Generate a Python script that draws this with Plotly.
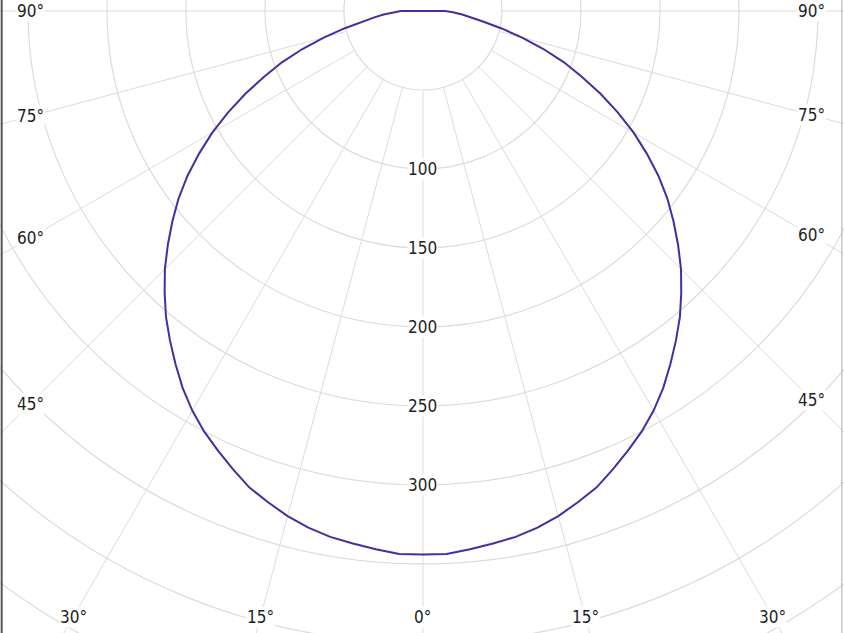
import numpy as np
import plotly.graph_objects as go

# luminous intensity distribution (cd/klm), C0-C180 plane, gamma angles in degrees
angles = [-90, -87.5, -85, -82.5, -80, -77.5, -75, -72.5, -70, -67.5, -65, -62.5, -60, -57.5,
          -55, -52.5, -50, -47.5, -45, -42.5, -40, -37.5, -35, -32.5, -30, -27.5, -25, -22.5,
          -20, -17.5, -15, -12.5, -10, -7.5, -5, -2.5,
          0, 2.5, 5, 7.5, 10, 12.5, 15, 17.5, 20, 22.5, 25, 27.5, 30, 32.5, 35, 37.5, 40,
          42.5, 45, 47.5, 50, 52.5, 55, 57.5, 60, 62.5, 65, 67.5, 70, 72.5, 75, 77.5, 80,
          82.5, 85, 87.5, 90]
intensity = [14, 19, 25, 31, 39, 51, 65, 80, 95, 109, 124, 139, 154, 168,
             182, 195, 207, 219, 231, 242, 253, 263, 273, 283, 292, 300, 307, 314,
             321, 326, 331, 335, 338, 340, 342, 344,
             344, 344, 342, 340, 338, 335, 331, 326, 321, 314, 307, 300, 292, 283, 273, 263, 253,
             242, 231, 219, 207, 195, 182, 168, 154, 139, 124, 109, 95, 80, 65, 51, 39,
             31, 25, 19, 14]

grid_radii = [50, 100, 150, 200, 250, 300, 350, 400, 450]
grid_angles = [-90, -75, -60, -45, -30, -15, 0, 15, 30, 45, 60, 75, 90]
radial_labels = [100, 150, 200, 250, 300]

GRID = '#dcdcdc'
TEXT = '#1e1e1e'
FONT = 'DejaVu Sans Condensed, Liberation Sans, sans-serif'

th = np.radians(angles)
r = np.array(intensity, dtype=float)
x = r * np.sin(th)
y = -r * np.cos(th)
# close the curve across the top
x = np.append(x, x[0])
y = np.append(y, y[0])

fig = go.Figure()
fig.add_trace(go.Scatter(x=x, y=y, mode='lines',
                         line=dict(color='#4030a0', width=2),
                         hoverinfo='skip', showlegend=False))

shapes = []
# grid circles centred on the light source
for rad in grid_radii:
    shapes.append(dict(type='circle', xref='x', yref='y', x0=-rad, x1=rad, y0=-rad, y1=rad,
                       line=dict(color=GRID, width=1.2), layer='below'))
# radial lines every 15 deg, starting at the first circle
for a in grid_angles:
    t = np.radians(a)
    shapes.append(dict(type='line', xref='x', yref='y',
                       x0=50 * np.sin(t), y0=-50 * np.cos(t),
                       x1=800 * np.sin(t), y1=-800 * np.cos(t),
                       line=dict(color=GRID, width=1), layer='below'))
# frame edges
shapes.append(dict(type='line', xref='paper', yref='paper', x0=0.002, x1=0.002, y0=0, y1=1,
                   line=dict(color='#555555', width=2)))
shapes.append(dict(type='line', xref='paper', yref='paper', x0=0.9975, x1=0.9975, y0=0, y1=1,
                   line=dict(color='#aaaaaa', width=1)))

annotations = []
for rv in radial_labels:
    annotations.append(dict(x=0, y=-rv, xref='x', yref='y', text=str(rv), showarrow=False,
                            font=dict(size=17, color=TEXT, family=FONT),
                            bgcolor='white', borderpad=0))

# angle labels sit where each ray meets an inset box
x_left, x_right, y_lim = 248.5, 246, 383.5
for a in grid_angles:
    t = np.radians(a)
    s, c = abs(np.sin(t)), np.cos(t)
    x_lim = x_left if a < 0 else x_right
    rr = min(x_lim / s if s > 1e-9 else 1e9, y_lim / c if c > 1e-9 else 1e9)
    annotations.append(dict(x=rr * np.sin(t), y=-rr * np.cos(t), xref='x', yref='y',
                            text=f'{abs(a)}°', showarrow=False,
                            font=dict(size=17, color=TEXT, family=FONT),
                            bgcolor='white', borderpad=0))

fig.update_layout(
    width=844, height=633,
    margin=dict(l=0, r=0, t=0, b=0),
    paper_bgcolor='white', plot_bgcolor='white',
    shapes=shapes, annotations=annotations,
    xaxis=dict(range=[-267.7, 266.5], visible=False, fixedrange=True),
    yaxis=dict(range=[-393.7, 6.96], visible=False, fixedrange=True),
    showlegend=False,
)

fig.write_html("out.html", config={'displayModeBar': False},
               post_script="document.body.style.margin='0';")
